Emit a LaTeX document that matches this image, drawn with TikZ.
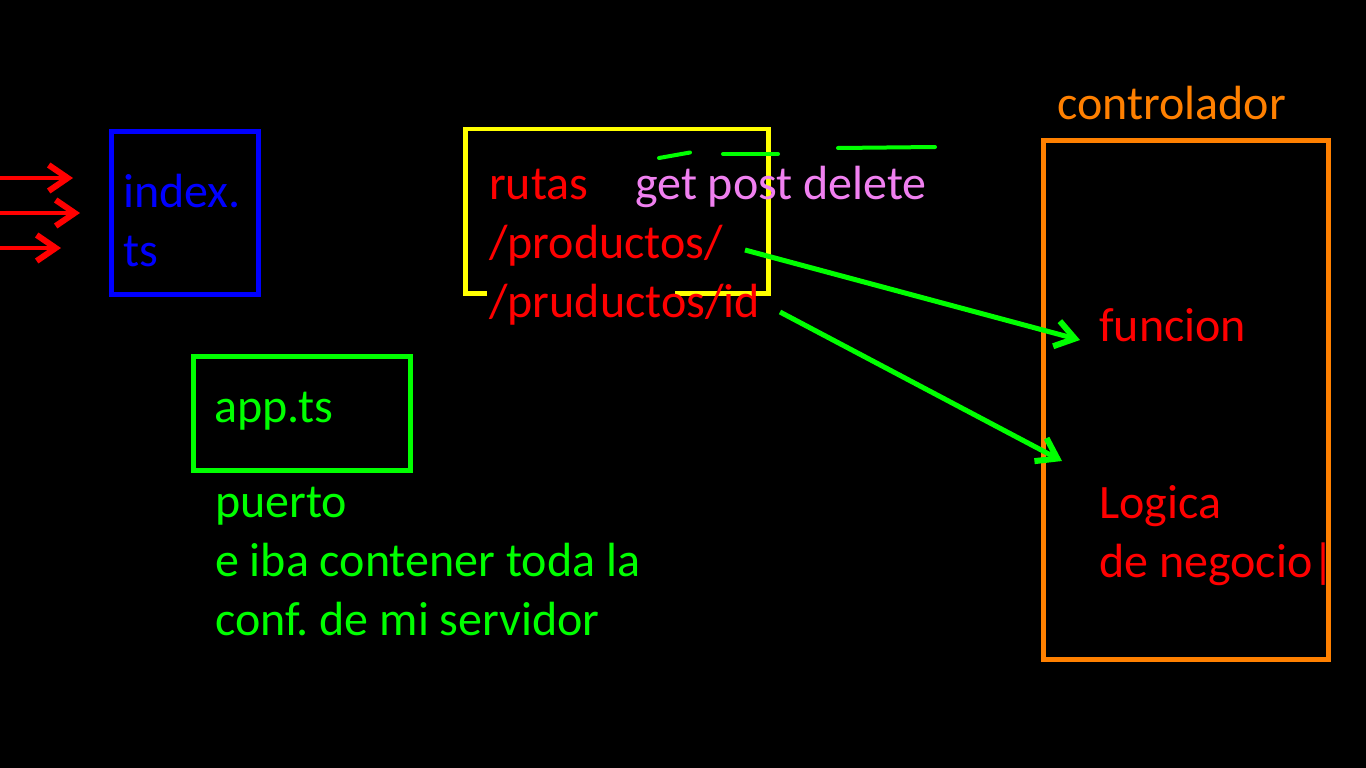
\documentclass[tikz,border=0pt]{standalone}
\usepackage{fontspec}
\setmainfont{Carlito}
\usetikzlibrary{arrows.meta, positioning}

\definecolor{rojo}{RGB}{255,0,0}
\definecolor{azul}{RGB}{0,0,255}
\definecolor{verde}{RGB}{0,255,0}
\definecolor{amarillo}{RGB}{255,255,0}
\definecolor{naranja}{RGB}{255,128,0}
\definecolor{rosa}{RGB}{240,128,240}

\tikzset{
  texto/.style={font=\fontsize{48}{59}\selectfont, inner sep=0pt, anchor=base west},
  caja/.style={line width=4.5pt},
  punta/.style={-{Straight Barb[length=19pt, width=26pt, line width=6pt]}},
  flecha/.style={line width=5pt, punta},
  trazo/.style={line width=4pt, line cap=round}
}

\begin{document}
\frenchspacing
\begin{tikzpicture}[x=1pt, y=-1pt]
  % fondo negro
  \fill[black] (0,0) rectangle (1366,768);
  \useasboundingbox (0,0) rectangle (1366,768);

  % index.ts
  \draw[caja, azul] (111.5,131.5) rectangle (258.5,294.5);
  \node[texto, azul] (index) at (123,207) {index.};
  \node[texto, azul] (ts) at ([yshift=-59pt]index.base west) {ts};

  % peticiones que llegan
  \foreach \y/\x [count=\i] in {178/73, 213/80, 248/61} {
    \coordinate (ini\i) at (0,\y);
    \coordinate (fin\i) at (\x,\y);
    \draw[rojo, line width=4.5pt, punta] (ini\i) -- (fin\i);
  }

  % app.ts
  \draw[caja, verde] (193.5,356.5) rectangle (410.5,470.5);
  \node[texto, verde] (app) at (214,422) {app.ts};
  \node[texto, verde] (puerto) at (215,517) {puerto};
  \node[texto, verde] (iba) at ([yshift=-59pt]puerto.base west) {e iba contener toda la};
  \node[texto, verde] (conf) at ([yshift=-59pt]iba.base west) {conf. de mi servidor};

  % rutas
  \draw[caja, amarillo] (487,293.5) -- (465.5,293.5) -- (465.5,129)
    -- (768.5,129) -- (768.5,293.5) -- (675,293.5);
  \node[texto, rojo] (rutas) at (489,199) {rutas};
  \node[texto, rosa] (metodos) at (635,199) {get post delete};
  \node[texto, rojo] (prod) at ([yshift=-59pt]rutas.base west) {/productos/};
  \node[texto, rojo] (prodid) at ([yshift=-59pt]prod.base west) {/pruductos/id};

  % subrayados
  \draw[trazo, verde] (659,158) .. controls (675,155) .. (690,152.5);
  \draw[trazo, verde] (723,154) -- (778,154);
  \draw[trazo, verde] (838,148) -- (935,147);

  % controlador
  \node[texto, naranja] (ctrl) at (1057,119) {controlador};
  \draw[caja, naranja] (1043.5,140.5) rectangle (1328.5,659.5);
  \node[texto, rojo] (funcion) at (1099,341) {funcion};
  \node[texto, rojo] (logica) at (1099,518) {Logica};
  \node[texto, rojo] (negocio) at ([yshift=-59pt]logica.base west) {de negocio|};

  % flechas rutas -> controlador
  \coordinate (a1) at (745,250);
  \coordinate (b1) at (1080,340);
  \coordinate (a2) at (780,312);
  \coordinate (b2) at (1062,461);
  \draw[flecha, verde] (a1) -- (b1);
  \draw[flecha, verde] (a2) -- (b2);
\end{tikzpicture}
\end{document}
